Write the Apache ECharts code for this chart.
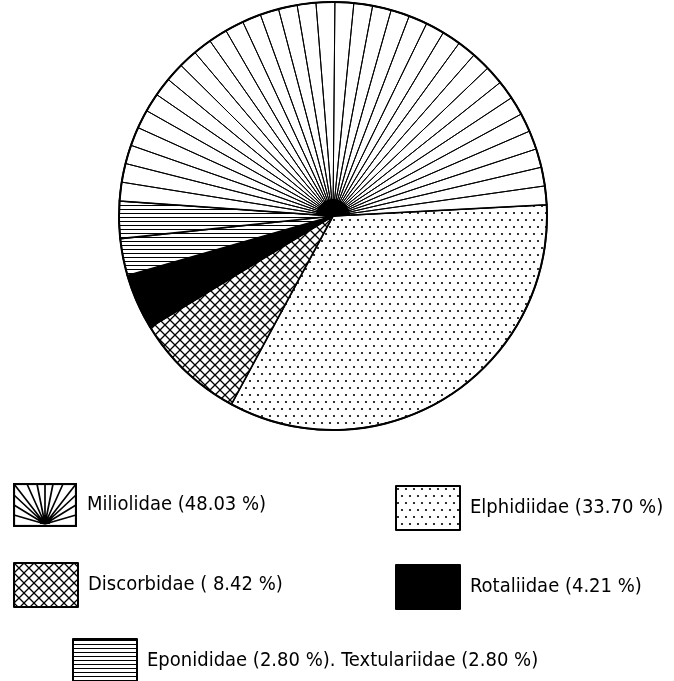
<!DOCTYPE html>
<html>
<head>
<meta charset="utf-8">
<script src="https://cdn.jsdelivr.net/npm/echarts@6/dist/echarts.min.js"></script>
<style>
html,body{margin:0;padding:0;background:#fff;}
#chart{width:674px;height:681px;}
</style>
</head>
<body>
<div id="chart"></div>
<script>
// families and their share (%)
var families = ['Elphidiidae','Discorbidae','Rotaliidae','Eponididae','Textulariidae','Miliolidae'];
var shares   = [33.70, 8.42, 4.21, 2.80, 2.80, 48.03];
var legendLabels = {
    'Miliolidae'  : 'Miliolidae (48.03 %)',
    'Elphidiidae' : 'Elphidiidae (33.70 %)',
    'Discorbidae' : 'Discorbidae ( 8.42 %)',
    'Rotaliidae'  : 'Rotaliidae (4.21 %)',
    'Eponididae'  : 'Eponididae (2.80 %). Textulariidae (2.80 %)'
};

var FONT = '"Liberation Sans Narrow","DejaVu Sans Condensed",sans-serif';
var CENTER = [333, 216];
var R = 214;
var START = 3;
var RAYS = 34;
var ICON_W = 64, ICON_H = 44;

function makeCanvas(w,h,draw){
    var c = document.createElement('canvas');
    c.width = w; c.height = h;
    var ctx = c.getContext('2d');
    draw(ctx);
    return c;
}
var dots = makeCanvas(8,14,function(ctx){
    ctx.fillStyle = '#fff'; ctx.fillRect(0,0,8,14);
    ctx.fillStyle = '#000';
    ctx.beginPath(); ctx.arc(2,3,1.1,0,Math.PI*2); ctx.fill();
    ctx.beginPath(); ctx.arc(6,10,1.1,0,Math.PI*2); ctx.fill();
});
var cross = makeCanvas(10,10,function(ctx){
    ctx.fillStyle = '#fff'; ctx.fillRect(0,0,10,10);
    ctx.strokeStyle = '#000'; ctx.lineWidth = 1.3;
    ctx.beginPath();
    ctx.moveTo(0,0); ctx.lineTo(10,10);
    ctx.moveTo(10,0); ctx.lineTo(0,10);
    ctx.stroke();
});
var hlines = makeCanvas(4,4,function(ctx){
    ctx.fillStyle = '#fff'; ctx.fillRect(0,0,4,4);
    ctx.fillStyle = '#000'; ctx.fillRect(0,1,4,1);
});
// legend icon for Miliolidae: a small fan
var fan = makeCanvas(ICON_W,ICON_H,function(ctx){
    var cx = ICON_W/2, cy = ICON_H-3;
    ctx.fillStyle = '#fff'; ctx.fillRect(0,0,ICON_W,ICON_H);
    ctx.strokeStyle = '#000'; ctx.lineWidth = 1.7;
    var ends = [[1,12],[1,22],[1,32],[1,1],[14,1],[24,1],[32,1],[40,1],[50,1],[63,1],[63,12],[63,22],[63,32]];
    ctx.beginPath();
    for(var i=0;i<ends.length;i++){
        ctx.moveTo(cx,cy); ctx.lineTo(ends[i][0],ends[i][1]);
    }
    ctx.stroke();
    ctx.fillStyle = '#000';
    ctx.beginPath(); ctx.arc(cx,cy,5,Math.PI,0); ctx.fill();
    ctx.lineWidth = 2.2; ctx.strokeRect(1,1,ICON_W-2,ICON_H-2);
});

var fills = {
    'Elphidiidae'   : {image:dots, repeat:'repeat'},
    'Discorbidae'   : {image:cross, repeat:'repeat'},
    'Rotaliidae'    : '#000',
    'Eponididae'    : {image:hlines, repeat:'repeat'},
    'Textulariidae' : {image:hlines, repeat:'repeat'},
    'Miliolidae'    : '#fff'
};

var mainData = [];
for(var i=0;i<families.length;i++){
    mainData.push({name:families[i], value:shares[i],
        itemStyle:{color:fills[families[i]], borderColor:'#000', borderWidth:1.6}});
}

// radial hatching of the Miliolidae sector
var others = 0;
for(var i=0;i<families.length-1;i++){ others += shares[i]; }
var rayData = [{name:'_rest', value:others, itemStyle:{color:'rgba(0,0,0,0)', borderWidth:0}}];
for(var i=0;i<RAYS;i++){
    rayData.push({name:'_ray'+i, value:shares[5]/RAYS,
        itemStyle:{color:'rgba(0,0,0,0)', borderColor:'#000', borderWidth:1}});
}
var hubData = [{name:'_rest2', value:others, itemStyle:{color:'rgba(0,0,0,0)', borderWidth:0}},
               {name:'_hub', value:shares[5], itemStyle:{color:'#000', borderWidth:0}}];

function pieBase(){
    return {type:'pie', center:CENTER, startAngle:START, clockwise:true,
        label:{show:false}, labelLine:{show:false}, silent:true,
        emphasis:{disabled:true}, animation:false, minAngle:0};
}
var s1 = pieBase(); s1.radius = [0,R]; s1.data = mainData;
var s2 = pieBase(); s2.radius = [0,R]; s2.data = rayData;
var s3 = pieBase(); s3.radius = [0,17]; s3.data = hubData;
var s4 = pieBase(); s4.radius = [R-1,R+1];
s4.data = [{name:'_rim', value:1, itemStyle:{color:'#000', borderWidth:0}}];

function legendAt(name,left,top,icon){
    var item = {name:name};
    if(icon){ item.icon = icon; }
    return {
        data:[item], left:left, top:top, padding:0, orient:'horizontal',
        itemWidth:ICON_W, itemHeight:ICON_H, icon:'rect', selectedMode:false,
        itemStyle:{borderColor:'#000', borderWidth:2},
        formatter:function(n){ return legendLabels[n]; },
        textStyle:{fontFamily:FONT, fontSize:20, color:'#000', padding:[0,0,0,5]}
    };
}

var chart = echarts.init(document.getElementById('chart'));
var option = {
    backgroundColor:'#fff',
    animation:false,
    legend:[
        legendAt('Miliolidae',13,483,'image://'+fan.toDataURL()),
        legendAt('Elphidiidae',395,485),
        legendAt('Discorbidae',13,562),
        legendAt('Rotaliidae',395,564),
        legendAt('Eponididae',72,638)
    ],
    series:[s1,s2,s3,s4]
};
chart.setOption(option);
</script>
</body>
</html>
